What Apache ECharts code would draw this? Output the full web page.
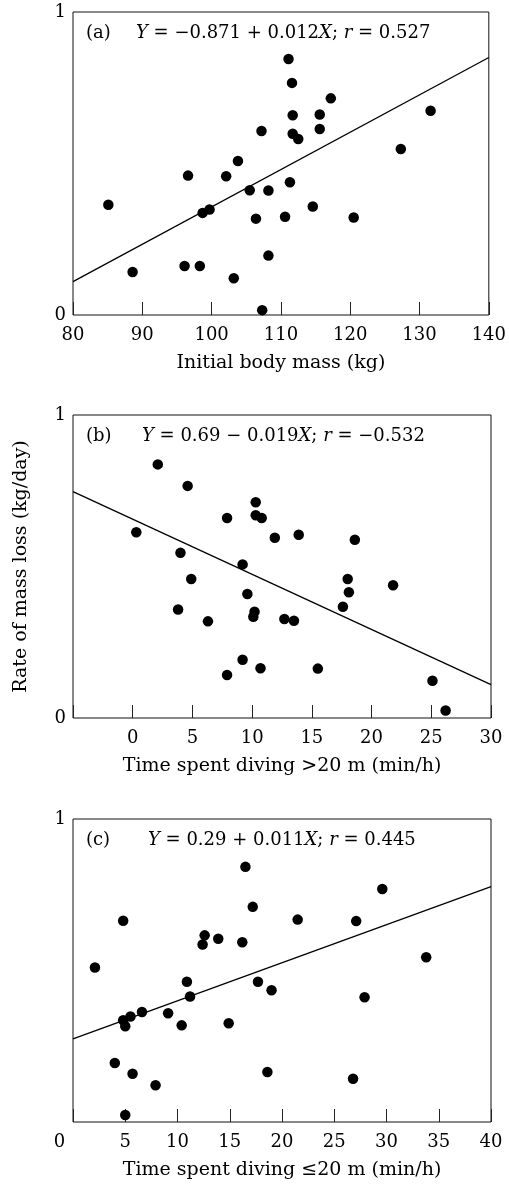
<!DOCTYPE html>
<html>
<head>
<meta charset="utf-8">
<script src="https://cdn.jsdelivr.net/npm/echarts@6/dist/echarts.min.js"></script>
<style>
html,body{margin:0;padding:0;background:#fff;}
#chart{width:509px;height:1184px;}
</style>
</head>
<body>
<div id="chart"></div>
<script>
// Panel (a): initial body mass (kg) vs rate of mass loss (kg/day)
const aX = [85.1, 88.6, 96.1, 96.6, 98.3, 98.7, 99.7, 102.1, 103.2, 103.8, 105.5, 106.4, 107.2, 107.3, 108.2, 108.2, 110.6, 111.1, 111.3, 111.6, 111.7, 111.7, 112.5, 114.6, 115.6, 115.6, 117.2, 120.5, 127.3, 131.6];
const aY = [0.364, 0.142, 0.162, 0.460, 0.162, 0.337, 0.348, 0.458, 0.121, 0.508, 0.412, 0.318, 0.607, 0.016, 0.411, 0.196, 0.324, 0.845, 0.438, 0.766, 0.659, 0.598, 0.581, 0.358, 0.662, 0.614, 0.715, 0.322, 0.548, 0.674];
const aLineX = [80, 140];
const aLineY = [0.11, 0.85];

// Panel (b): time spent diving >20 m (min/h)
const bX = [0.3, 2.1, 4.6, 4.0, 3.8, 4.9, 6.3, 7.9, 7.9, 9.2, 9.2, 9.6, 10.3, 10.3, 10.8, 10.2, 10.1, 10.7, 11.9, 12.7, 13.5, 13.9, 15.5, 17.6, 18.0, 18.1, 18.6, 21.8, 25.1, 26.2];
const bY = [0.613, 0.837, 0.766, 0.545, 0.358, 0.459, 0.319, 0.660, 0.142, 0.507, 0.192, 0.409, 0.712, 0.669, 0.660, 0.351, 0.334, 0.164, 0.595, 0.327, 0.321, 0.605, 0.163, 0.367, 0.459, 0.415, 0.588, 0.438, 0.123, 0.025];
const bLineX = [-5, 30];
const bLineY = [0.747, 0.110];

// Panel (c): time spent diving <=20 m (min/h)
const cX = [2.1, 4.0, 4.8, 4.8, 5.0, 5.0, 5.5, 5.7, 6.6, 7.9, 9.1, 10.4, 10.9, 11.2, 12.4, 12.6, 13.9, 14.9, 16.2, 16.5, 17.2, 17.7, 18.6, 19.0, 21.5, 26.8, 27.1, 27.9, 29.6, 33.8];
const cY = [0.510, 0.195, 0.664, 0.336, 0.316, 0.023, 0.348, 0.159, 0.363, 0.121, 0.359, 0.319, 0.463, 0.414, 0.586, 0.616, 0.605, 0.326, 0.593, 0.842, 0.710, 0.463, 0.165, 0.435, 0.668, 0.143, 0.663, 0.412, 0.769, 0.544];
const cLineX = [0, 40];
const cLineY = [0.274, 0.777];

const panelLabels = ['(a)', '(b)', '(c)'];
const formulas = [
  '{i|Y} = −0.871 + 0.012{i|X}; {i|r} = 0.527',
  '{i|Y} = 0.69 − 0.019{i|X}; {i|r} = −0.532',
  '{i|Y} = 0.29 + 0.011{i|X}; {i|r} = 0.445'
];
const xNames = ['Initial body mass (kg)', 'Time spent diving >20 m (min/h)', 'Time spent diving ≤20 m (min/h)'];
const yName = 'Rate of mass loss (kg/day)';
const xRanges = [[80, 140, 10], [-5, 30, 5], [0, 40, 5]];

const FONT = 'DejaVu Serif';
const FS = 18;
const NFS = 19;
const TXT = '#000';

const gridTops = [12, 415, 819];
const gridH = 303;
const gridLeft = 73;
const gridW = 418;

const zip = (xs, ys) => xs.map((x, i) => [x, ys[i]]);

const grids = gridTops.map(t => ({
  left: gridLeft, top: t, width: gridW, height: gridH,
  show: true, borderColor: '#111', borderWidth: 1, backgroundColor: 'transparent'
}));

const xAxes = xRanges.map((r, i) => ({
  type: 'value', gridIndex: i, min: r[0], max: r[1], interval: r[2],
  name: xNames[i], nameLocation: 'middle', nameGap: 39,
  nameTextStyle: { fontFamily: FONT, fontSize: NFS, color: TXT },
  axisLine: { show: false },
  axisTick: { show: true, inside: true, length: 13, lineStyle: { color: '#222', width: 1 } },
  splitLine: { show: false },
  axisLabel: {
    fontFamily: FONT, fontSize: FS, color: TXT, margin: 11,
    formatter: function (v) {
      if (i === 1 && v < 0) return '';
      if (i === 2 && v === 0) return '{z|0}';
      return String(v);
    },
    rich: { z: { fontFamily: FONT, fontSize: FS, color: TXT, padding: [0, 27, 0, 0] } }
  }
}));

const yAxes = [0, 1, 2].map(i => ({
  type: 'value', gridIndex: i, min: 0, max: 1, interval: 1,
  name: i === 1 ? yName : '', nameLocation: 'middle', nameGap: 42, nameRotate: 90,
  nameTextStyle: { fontFamily: FONT, fontSize: NFS, color: TXT },
  axisLine: { show: false }, axisTick: { show: false }, splitLine: { show: false },
  axisLabel: {
    fontFamily: FONT, fontSize: FS, color: TXT, margin: 7,
    formatter: function (v) { if (i === 2 && v === 0) return ''; return String(v); }
  }
}));

const pts = [zip(aX, aY), zip(bX, bY), zip(cX, cY)];
const lines = [zip(aLineX, aLineY), zip(bLineX, bLineY), zip(cLineX, cLineY)];

const series = [];
[0, 1, 2].forEach(i => {
  series.push({
    type: 'line', xAxisIndex: i, yAxisIndex: i, data: lines[i], symbol: 'none',
    lineStyle: { color: '#000', width: 1.3 }, silent: true, z: 2
  });
  series.push({
    type: 'scatter', xAxisIndex: i, yAxisIndex: i, data: pts[i], symbol: 'circle', symbolSize: 10.5,
    itemStyle: { color: '#000', opacity: 1 }, z: 3
  });
});

const richI = { i: { fontStyle: 'italic', fontFamily: FONT, fontSize: FS, fill: TXT } };
const formulaX = [136, 142, 148];
const graphic = [];
[0, 1, 2].forEach(i => {
  const yc = gridTops[i] + 21.5;
  graphic.push({
    type: 'text', x: 86, y: yc,
    style: { text: panelLabels[i], font: FS + 'px "' + FONT + '"', fill: TXT, align: 'left', verticalAlign: 'middle' }
  });
  graphic.push({
    type: 'text', x: formulaX[i], y: yc,
    style: { text: formulas[i], font: FS + 'px "' + FONT + '"', fill: TXT, align: 'left', verticalAlign: 'middle', rich: richI }
  });
});

const chart = echarts.init(document.getElementById('chart'), null, { renderer: 'canvas' });
chart.setOption({
  animation: false,
  backgroundColor: '#fff',
  grid: grids, xAxis: xAxes, yAxis: yAxes, series: series, graphic: graphic
});
</script>
</body>
</html>
